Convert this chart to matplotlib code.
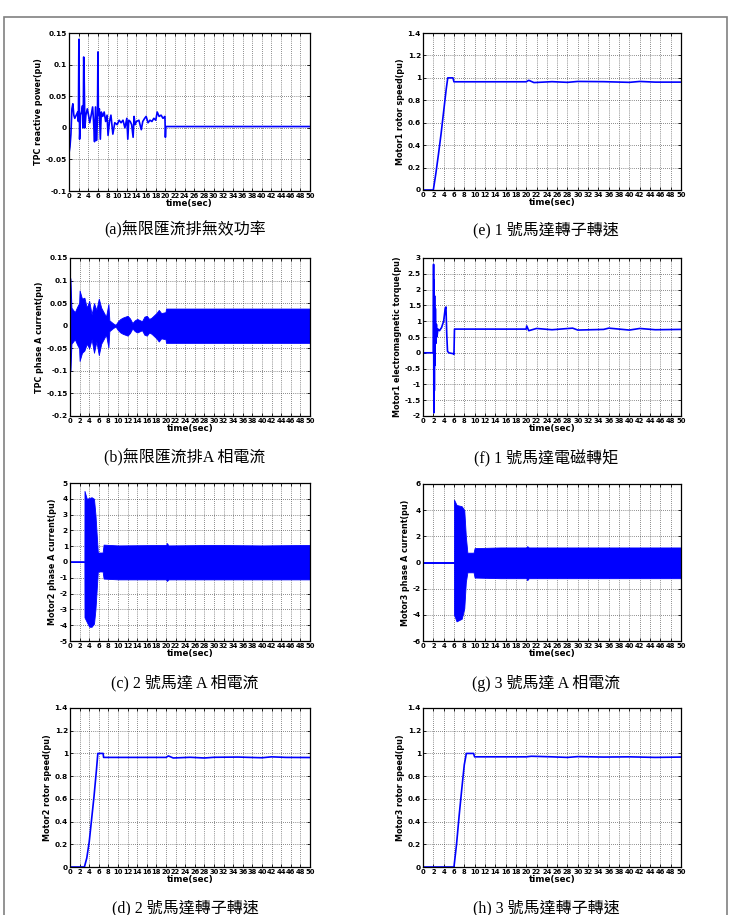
import matplotlib
matplotlib.use("Agg")
import matplotlib.pyplot as plt
from matplotlib.patches import Rectangle
from matplotlib.ticker import FormatStrFormatter

W, H = 732, 915

# (a) TPC reactive power
t_a = [0, 0.2, 0.4, 0.6, 0.8, 1.0, 1.2, 1.5, 1.8, 1.95, 2.05, 2.2, 2.4, 2.6, 2.8, 2.95, 3.05, 3.15, 3.3, 3.5,
       3.8, 4.1, 4.3, 4.6, 4.9, 5.1, 5.3, 5.5, 5.7, 5.9, 6.0, 6.1, 6.3, 6.5, 6.7, 7.0, 7.3, 7.6, 7.9, 8.1,
       8.4, 8.7, 8.9, 9.1, 9.5, 10.0, 10.4, 10.8, 11.2, 11.6, 12.0, 12.2, 12.4, 12.7, 13.0, 13.3, 13.5, 13.7,
       14.0, 14.5, 15.0, 15.3, 15.7, 16.0, 16.4, 16.8, 17.2, 17.6, 18.0, 18.3, 18.7, 19.1, 19.5, 19.9, 20.0,
       20.1, 50]
q_a = [-0.04, -0.03, -0.01, 0.03, 0.038, 0.02, 0.015, 0.02, 0.025, 0.01, 0.14, -0.018, 0.02, 0.025, 0.035,
       0.0, 0.112, 0.08, 0.0, 0.02, 0.03, 0.018, 0.008, 0.02, 0.033, 0.01, -0.022, 0.033, -0.02, 0.01, 0.12,
       0.02, 0.03, -0.018, 0.025, 0.018, 0.025, 0.01, 0.02, -0.012, 0.01, 0.02, 0.005, -0.01, 0.008, 0.005,
       0.012, 0.008, 0.012, 0.0, 0.015, -0.018, 0.012, 0.01, 0.005, -0.015, 0.018, 0.005, 0.01, 0.012, -0.003,
       0.01, 0.015, 0.018, 0.008, 0.012, 0.01, 0.015, 0.012, 0.025, 0.018, 0.02, 0.015, 0.018, -0.015, 0.002,
       0.002]

# (b) TPC phase A current envelope
t_b = [0, 0.1, 0.3, 1.0, 1.5, 1.9, 2.0, 2.5, 3.0, 3.5, 4.0, 4.5, 5.0, 5.5, 6.0, 6.5, 7.0, 7.5, 8.0, 8.2, 9.0,
       9.5, 10.0, 10.5, 11.0, 12.0, 12.5, 13.0, 13.5, 14.0, 15.0, 15.5, 16.0, 16.5, 17.0, 18.0, 18.5, 19.0,
       19.9, 20.0, 50]
up_b = [0.02, 0.105, 0.04, 0.03, 0.042, 0.05, 0.078, 0.06, 0.062, 0.04, 0.055, 0.025, 0.05, 0.035, 0.06, 0.04,
        0.03, 0.02, 0.048, 0.012, 0.005, 0.002, 0.01, 0.015, 0.018, 0.022, 0.016, 0.006, 0.012, 0.015, 0.01,
        0.02, 0.022, 0.015, 0.018, 0.028, 0.035, 0.028, 0.03, 0.038, 0.038]
lo_b = [-0.02, -0.1, -0.04, -0.03, -0.042, -0.05, -0.078, -0.06, -0.055, -0.04, -0.05, -0.03, -0.06, -0.035,
        -0.065, -0.04, -0.03, -0.02, -0.048, -0.012, -0.005, -0.002, -0.01, -0.015, -0.018, -0.022, -0.016,
        -0.006, -0.012, -0.015, -0.01, -0.02, -0.022, -0.015, -0.018, -0.028, -0.035, -0.028, -0.03, -0.038,
        -0.038]

# (c) Motor2 phase A current envelope
t_c = [0, 3.0, 3.02, 3.5, 4.0, 4.5, 5.0, 5.3, 5.8, 6.8, 7.0, 10, 20, 20.2, 20.5, 30, 40, 50]
up_c = [0, 0, 4.5, 4.0, 4.05, 4.1, 4.0, 3.0, 0.6, 0.6, 1.1, 1.05, 1.08, 1.2, 1.05, 1.08, 1.05, 1.08]
lo_c = [0, 0, -3.5, -3.8, -4.1, -4.1, -3.9, -3.0, -0.6, -0.6, -1.05, -1.1, -1.1, -1.2, -1.1, -1.1, -1.1, -1.1]

# (d) Motor2 rotor speed
t_d = [0, 3.0, 3.5, 4.0, 4.5, 5.0, 5.5, 5.8, 6.9, 7.0, 10, 15, 20, 20.5, 21.5, 25, 28, 30, 35, 40, 42, 45, 50]
w_d = [0, 0, 0.08, 0.22, 0.42, 0.62, 0.85, 1.0, 1.0, 0.965, 0.965, 0.965, 0.965, 0.978, 0.96, 0.966, 0.96,
       0.966, 0.968, 0.962, 0.97, 0.965, 0.964]

# (e) Motor1 rotor speed
t_e = [0, 2.0, 2.5, 3.0, 3.5, 4.0, 4.5, 4.8, 5.8, 6.0, 10, 15, 20, 20.5, 21.5, 25, 28, 30, 35, 40, 42, 45, 50]
w_e = [0, 0, 0.15, 0.32, 0.5, 0.7, 0.9, 1.0, 1.0, 0.965, 0.965, 0.965, 0.965, 0.978, 0.958, 0.966, 0.96,
       0.968, 0.966, 0.96, 0.968, 0.962, 0.962]

# (f) Motor1 electromagnetic torque
t_f = [0, 2.0, 2.05, 2.1, 2.15, 2.2, 2.25, 2.3, 2.4, 2.5, 2.6, 2.7, 2.9, 3.2, 3.6, 4.0, 4.3, 4.45, 4.6, 4.75,
       5.0, 5.9, 6.0, 6.1, 10, 15, 20, 20.1, 20.5, 22, 25, 29, 30, 35, 36, 40, 42, 45, 50]
T_f = [0, 0, 2.8, -1.9, 2.3, -1.2, 1.8, -0.4, 1.4, 0.3, 0.9, 0.5, 0.75, 0.7, 0.8, 1.0, 1.4, 1.45, 0.6, 0.05,
       0.0, -0.03, -0.05, 0.75, 0.75, 0.75, 0.75, 0.85, 0.7, 0.77, 0.73, 0.78, 0.72, 0.74, 0.78, 0.72, 0.77,
       0.73, 0.74]

# (g) Motor3 phase A current envelope
t_g = [0, 6.0, 6.02, 6.5, 7.5, 8.0, 8.3, 8.6, 9.8, 10.0, 15, 20, 20.2, 20.5, 30, 40, 50]
up_g = [0, 0, 4.8, 4.4, 4.3, 4.0, 2.0, 0.75, 0.75, 1.1, 1.15, 1.15, 1.25, 1.15, 1.15, 1.15, 1.15]
lo_g = [0, 0, -4.0, -4.5, -4.3, -3.5, -1.5, -0.75, -0.75, -1.15, -1.2, -1.2, -1.35, -1.2, -1.2, -1.2, -1.2]

# (h) Motor3 rotor speed
t_h = [0, 6.0, 6.5, 7.0, 7.5, 8.0, 8.4, 9.8, 10.0, 15, 20, 21, 25, 28, 30, 35, 40, 45, 50]
w_h = [0, 0, 0.2, 0.45, 0.68, 0.9, 1.0, 1.0, 0.97, 0.97, 0.97, 0.975, 0.97, 0.965, 0.972, 0.968, 0.97, 0.965, 0.968]

xticks = list(range(0, 51, 2))
blue = "#0000ff"

fig = plt.figure(figsize=(W / 100, H / 100), dpi=100)
fig.patches.append(Rectangle((4 / W, -0.01), (727 - 4) / W, 1 - 17 / H + 0.01, transform=fig.transFigure,
                             fill=False, edgecolor="#808080", linewidth=1.2))


def make_axes(l, t, r, b, ylim, ystep, ylabel, fmt="%g"):
    ax = fig.add_axes([l / W, 1 - b / H, (r - l) / W, (b - t) / H])
    ax.set_xlim(0, 50)
    ax.set_ylim(*ylim)
    ax.set_xticks(xticks)
    n = int(round((ylim[1] - ylim[0]) / ystep))
    ax.set_yticks([ylim[0] + i * ystep for i in range(n + 1)])
    ax.yaxis.set_major_formatter(FormatStrFormatter(fmt))
    ax.set_axisbelow(True)
    ax.grid(True, color="#222222", linestyle=(0, (1, 2)), linewidth=0.5)
    ax.tick_params(direction="in", top=True, right=True, length=2.5, width=0.6, pad=1.5, labelsize=5.3)
    ax.tick_params(axis="x", labelsize=4.9)
    for lab in ax.get_xticklabels() + ax.get_yticklabels():
        lab.set_fontweight("bold")
    for s in ax.spines.values():
        s.set_linewidth(0.9)
    ax.set_xlabel("time(sec)", fontsize=6.3, fontweight="bold", labelpad=0)
    ax.set_ylabel(ylabel, fontsize=5.8, fontweight="bold", labelpad=2)
    return ax


ax = make_axes(69, 33, 310, 191, (-0.1, 0.15), 0.05, "TPC reactive power(pu)")
ax.plot(t_a, q_a, color=blue, linewidth=1.2)

ax = make_axes(70, 258, 310, 416, (-0.2, 0.15), 0.05, "TPC phase A current(pu)")
ax.fill_between(t_b, lo_b, up_b, color=blue, linewidth=0.6, edgecolor=blue)

ax = make_axes(70, 483, 310, 641, (-5, 5), 1, "Motor2 phase A current(pu)")
ax.fill_between(t_c, lo_c, up_c, color=blue, linewidth=0.6, edgecolor=blue)
ax.plot(t_c[:2], up_c[:2], color=blue, linewidth=1.2)

ax = make_axes(70, 708, 310, 867, (0, 1.4), 0.2, "Motor2 rotor speed(pu)")
ax.plot(t_d, w_d, color=blue, linewidth=1.2)

ax = make_axes(423, 33, 681, 190, (0, 1.4), 0.2, "Motor1 rotor speed(pu)")
ax.plot(t_e, w_e, color=blue, linewidth=1.2)

ax = make_axes(423, 258, 681, 416, (-2, 3), 0.5, "Motor1 electromagnetic torque(pu)")
ax.plot(t_f, T_f, color=blue, linewidth=1.2)

ax = make_axes(423, 484, 681, 641, (-6, 6), 2, "Motor3 phase A current(pu)")
ax.fill_between(t_g, lo_g, up_g, color=blue, linewidth=0.6, edgecolor=blue)
ax.plot(t_g[:2], up_g[:2], color=blue, linewidth=1.2)

ax = make_axes(423, 708, 681, 867, (0, 1.4), 0.2, "Motor3 rotor speed(pu)")
ax.plot(t_h, w_h, color=blue, linewidth=1.2)

captions = [
    (185, 230, "(a)無限匯流排無效功率"),
    (185, 458, "(b)無限匯流排A 相電流"),
    (185, 683, "(c) 2 號馬達 A 相電流"),
    (185, 908, "(d) 2 號馬達轉子轉速"),
    (546, 230, "(e) 1 號馬達轉子轉速"),
    (546, 458, "(f) 1 號馬達電磁轉矩"),
    (546, 683, "(g) 3 號馬達 A 相電流"),
    (546, 908, "(h) 3 號馬達轉子轉速"),
]
for x, y, s in captions:
    fig.text(x / W, 1 - y / H, s, ha="center", va="center", fontsize=11.5,
             family=["Liberation Serif", "Noto Sans CJK TC"])

fig.savefig("out.png", dpi=100)
